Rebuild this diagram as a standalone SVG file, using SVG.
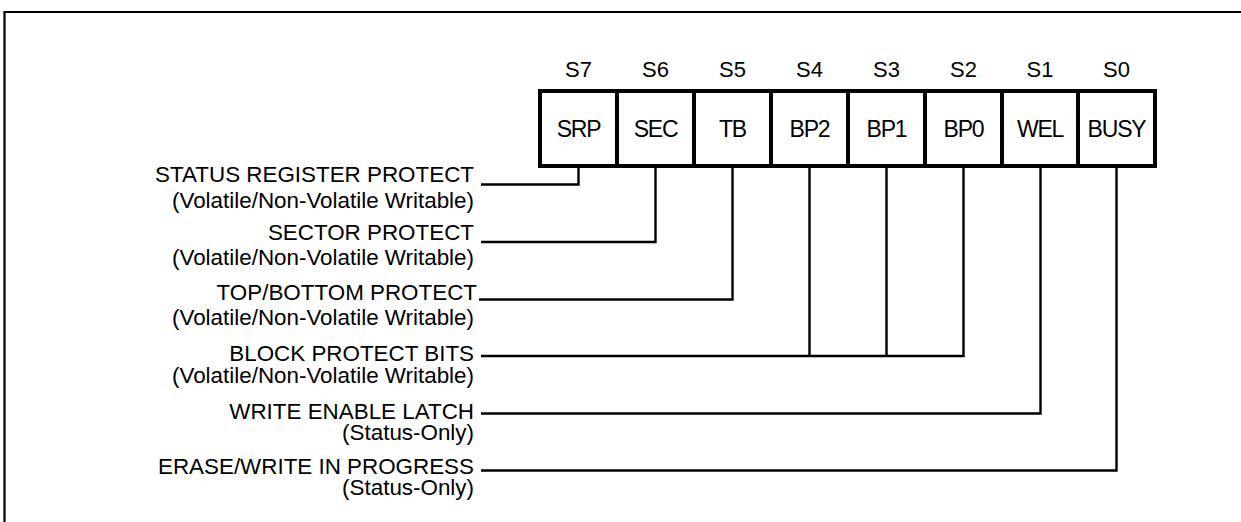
<svg xmlns="http://www.w3.org/2000/svg" width="1241" height="522" viewBox="0 0 1241 522">
<style>
text{font-family:"Liberation Sans",Arial,sans-serif;fill:#000}
.bit{font-size:22px;text-anchor:middle}
.cell{font-size:23px;text-anchor:middle;letter-spacing:-1.2px}
.lbl{font-size:22.4px;text-anchor:end}
.box{fill:none;stroke:#000;stroke-width:4}
.wire{fill:none;stroke:#000;stroke-width:2.4}
</style>
<rect width="1241" height="522" fill="#fff"/>
<path d="M4.5,530 V12 H1250" fill="none" stroke="#000" stroke-width="2.2"/>
<g id="register">
<rect class="box" x="540" y="91" width="615" height="75"/>
<path class="box" d="M617,91V166M694,91V166M771,91V166M848,91V166M925,91V166M1002,91V166M1078,91V166"/>
</g>
<g id="bit-S7"><text class="bit" x="578.5" y="77">S7</text><text class="cell" x="578.5" y="136.5">SRP</text></g>
<g id="bit-S6"><text class="bit" x="655.5" y="77">S6</text><text class="cell" x="655.5" y="136.5">SEC</text></g>
<g id="bit-S5"><text class="bit" x="732.5" y="77">S5</text><text class="cell" x="732.5" y="136.5">TB</text></g>
<g id="bit-S4"><text class="bit" x="809.5" y="77">S4</text><text class="cell" x="809.5" y="136.5">BP2</text></g>
<g id="bit-S3"><text class="bit" x="886.5" y="77">S3</text><text class="cell" x="886.5" y="136.5">BP1</text></g>
<g id="bit-S2"><text class="bit" x="963.5" y="77">S2</text><text class="cell" x="963.5" y="136.5">BP0</text></g>
<g id="bit-S1"><text class="bit" x="1040" y="77">S1</text><text class="cell" x="1040" y="136.5">WEL</text></g>
<g id="bit-S0"><text class="bit" x="1116.5" y="77">S0</text><text class="cell" x="1116.5" y="136.5">BUSY</text></g>
<g id="label-srp"><text class="lbl" x="474" y="182">STATUS REGISTER PROTECT</text><text class="lbl" x="474" y="208">(Volatile/Non-Volatile Writable)</text></g>
<g id="label-sec"><text class="lbl" x="474" y="240">SECTOR PROTECT</text><text class="lbl" x="474" y="265">(Volatile/Non-Volatile Writable)</text></g>
<g id="label-tb"><text class="lbl" x="477" y="300">TOP/BOTTOM PROTECT</text><text class="lbl" x="474" y="325">(Volatile/Non-Volatile Writable)</text></g>
<g id="label-bp"><text class="lbl" x="474" y="361">BLOCK PROTECT BITS</text><text class="lbl" x="474" y="383">(Volatile/Non-Volatile Writable)</text></g>
<g id="label-wel"><text class="lbl" x="474" y="419">WRITE ENABLE LATCH</text><text class="lbl" x="474" y="440">(Status-Only)</text></g>
<g id="label-busy"><text class="lbl" x="474" y="474">ERASE/WRITE IN PROGRESS</text><text class="lbl" x="474" y="495">(Status-Only)</text></g>
<g id="connectors">
<path class="wire" d="M481,184.5 H578.5 V168"/>
<path class="wire" d="M481,242 H655.5 V168"/>
<path class="wire" d="M479,299.5 H732.5 V168"/>
<path class="wire" d="M481,356 H963.5 V168 M809.5,168 V356 M886.5,168 V356"/>
<path class="wire" d="M481,413.5 H1040.5 V168"/>
<path class="wire" d="M481,470.5 H1116.5 V168"/>
</g>
</svg>
